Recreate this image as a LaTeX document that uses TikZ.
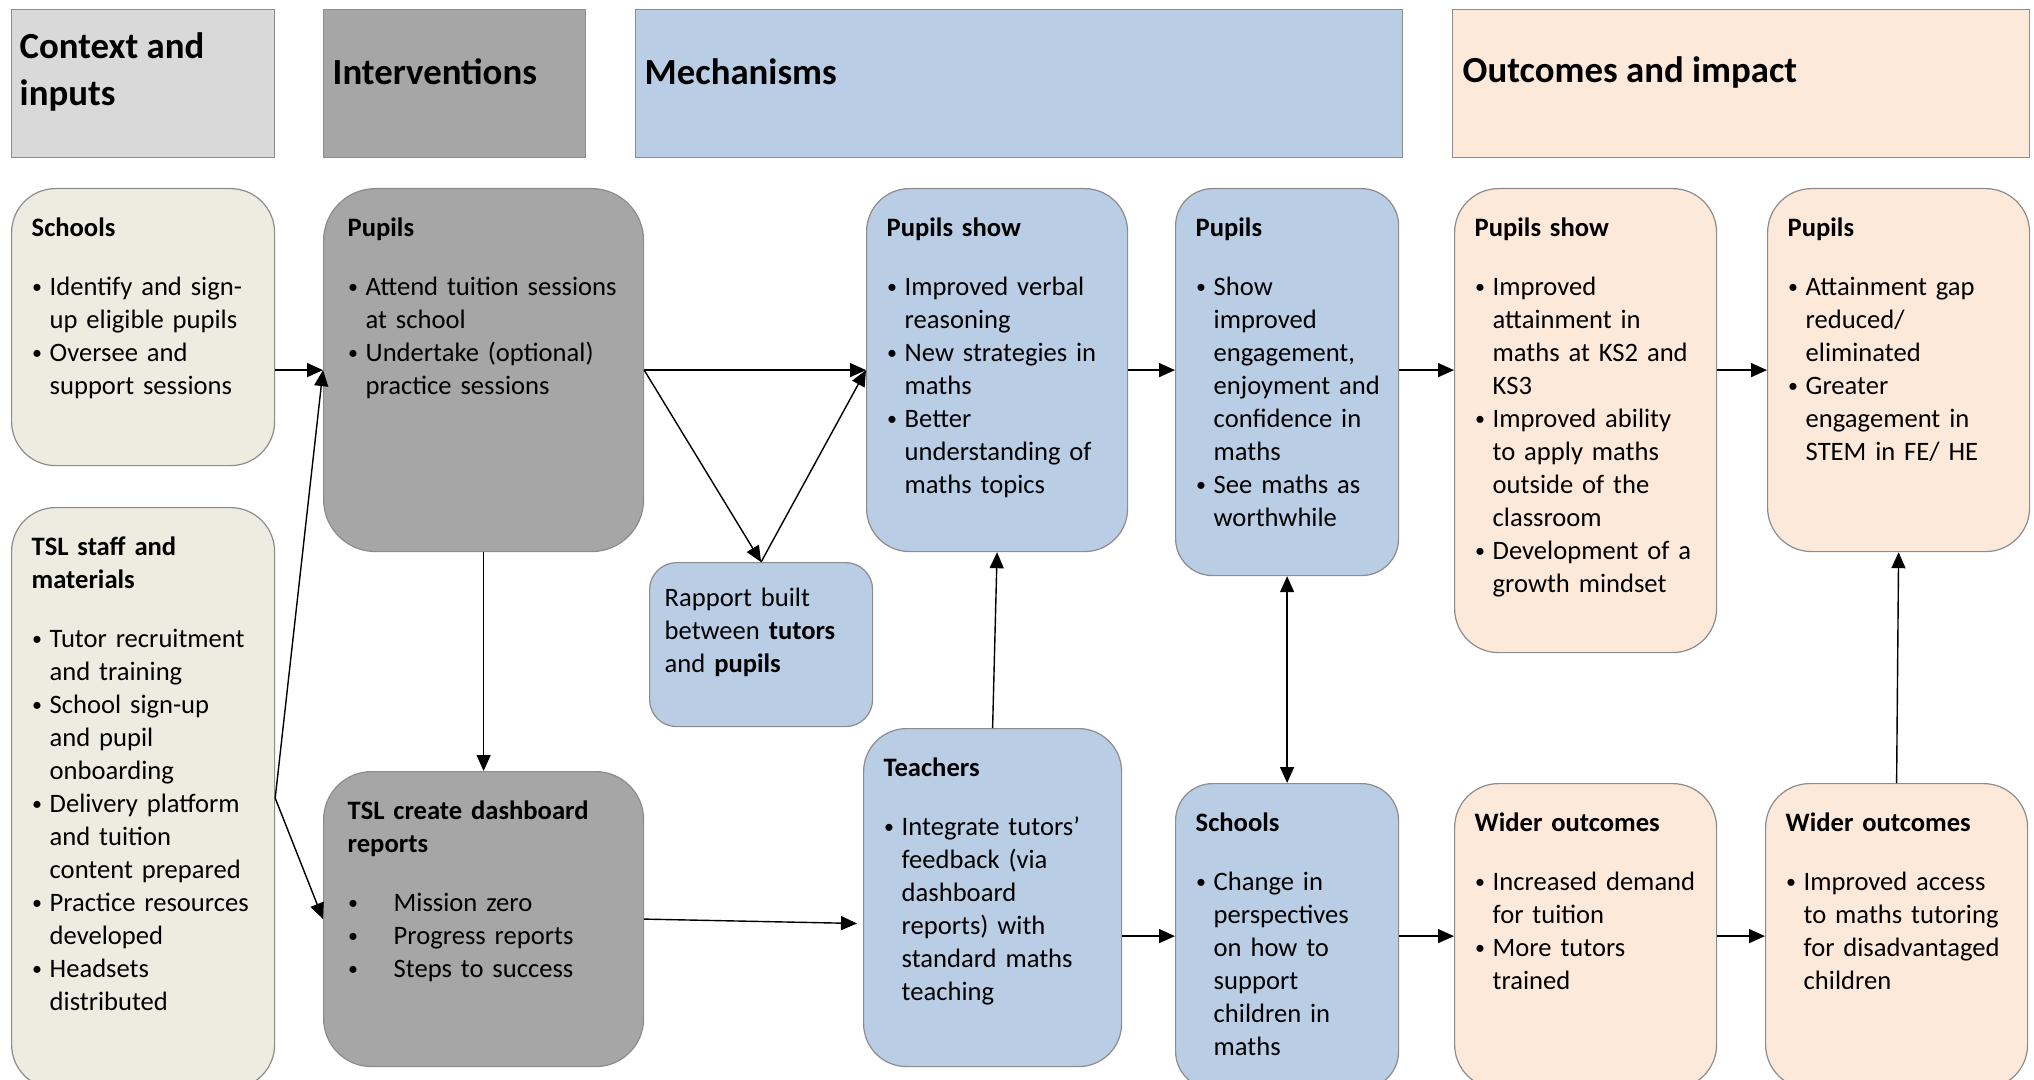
\documentclass[tikz,border=0pt]{standalone}
\usepackage{fontspec}
\setmainfont{Carlito}
\usetikzlibrary{arrows.meta}
\definecolor{hdgrey}{HTML}{D9D9D9}
\definecolor{intgrey}{HTML}{A6A6A6}
\definecolor{mechblue}{HTML}{B9CDE5}
\definecolor{outpeach}{HTML}{FDE9D9}
\definecolor{ctxbeige}{HTML}{EEECE1}
\definecolor{edgegrey}{HTML}{8C8C8C}
\newcommand\bulletmark{\raisebox{1.1pt}{\scalebox{0.75}{\textbullet}}}
\newcommand\itm{\par\hangindent=9pt\hangafter=1\noindent\hbox to 9pt{\hspace{0.2pt}\bulletmark\hfil}}
\newcommand\itmw{\par\noindent\hbox to 23pt{\hspace{0.2pt}\bulletmark\hfil}}
\newcommand\gap{\par\vspace{13.2pt}}
\begin{document}
\begin{tikzpicture}[x=0.5pt,y=-0.5pt,line width=0.7pt,
  >={Triangle[length=8pt,width=7pt]},
  hd/.style={draw=edgegrey,line width=0.6pt,anchor=north west,inner sep=0pt,minimum height=74pt},
  hdtxt/.style={anchor=west,inner sep=0pt,align=left,font={\fontsize{18.4}{23.5}\selectfont\bfseries}},
  cell/.style={draw=edgegrey,line width=0.6pt,anchor=north west,inner sep=0pt},
  txt/.style={anchor=north west,inner sep=0pt,text width=150pt,align=left,font={\fontsize{13.3}{16.5}\selectfont}}]
\clip (0,0) rectangle (2034,1080);
% column headers
\node[hd,fill=hdgrey,minimum width=131.5pt] (hctx) at (11,9) {};
\node[hd,fill=intgrey,minimum width=131pt] (hint) at (323,9) {};
\node[hd,fill=mechblue,minimum width=383.5pt] (hmech) at (635,9) {};
\node[hd,fill=outpeach,minimum width=288.5pt] (hout) at (1452,9) {};
\node[hdtxt] (hctxt) at ([xshift=4pt,yshift=5.75pt]hctx.west) {Context and\\inputs};
\node[hdtxt] (hintt) at ([xshift=4.5pt,yshift=5.75pt]hint.west) {Interventions};
\node[hdtxt] (hmecht) at ([xshift=4.5pt,yshift=5.75pt]hmech.west) {Mechanisms};
\node[hdtxt] (houtt) at ([xshift=5pt,yshift=5.75pt]hout.west) {Outcomes and impact};
% context and inputs
\node[cell,fill=ctxbeige,minimum width=131.5pt,minimum height=138.5pt,rounded corners=22pt] (ctx1) at (11,188) {};
\node[cell,fill=ctxbeige,minimum width=131.5pt,minimum height=290.5pt,rounded corners=22pt] (ctx2) at (11,507) {};
\node[txt] (ctx1t) at ([xshift=10pt,yshift=-14.5pt]ctx1.north west)
  {\textbf{Schools}\gap
   \itm Identify and sign-\newline up eligible pupils
   \itm Oversee and\newline support sessions\par};
\node[txt] (ctx2t) at ([xshift=10pt,yshift=-14.5pt]ctx2.north west)
  {\textbf{TSL staff and\newline materials}\gap
   \itm Tutor recruitment\newline and training
   \itm School sign-up\newline and pupil\newline onboarding
   \itm Delivery platform\newline and tuition\newline content prepared
   \itm Practice resources\newline developed
   \itm Headsets\newline distributed\par};
% interventions
\node[cell,fill=intgrey,minimum width=160pt,minimum height=181.5pt,rounded corners=26pt] (int1) at (323,188) {};
\node[cell,fill=intgrey,minimum width=160pt,minimum height=147.5pt,rounded corners=24pt] (int2) at (323,771) {};
\node[txt] (int1t) at ([xshift=12pt,yshift=-14.5pt]int1.north west)
  {\textbf{Pupils}\gap
   \itm Attend tuition sessions\newline at school
   \itm Undertake (optional)\newline practice sessions\par};
\node[txt] (int2t) at ([xshift=12pt,yshift=-14.5pt]int2.north west)
  {\textbf{TSL create dashboard\newline reports}\gap
   \itmw Mission zero
   \itmw Progress reports
   \itmw Steps to success\par};
% mechanisms
\node[cell,fill=mechblue,minimum width=111.5pt,minimum height=82pt,rounded corners=13.5pt] (rap) at (649,562) {};
\node[cell,fill=mechblue,minimum width=130.5pt,minimum height=181.5pt,rounded corners=21.5pt] (mech1) at (866,188) {};
\node[cell,fill=mechblue,minimum width=129pt,minimum height=169pt,rounded corners=21.5pt] (mech2) at (863,728) {};
\node[cell,fill=mechblue,minimum width=111.5pt,minimum height=193.5pt,rounded corners=18.5pt] (mech3) at (1175,188) {};
\node[cell,fill=mechblue,minimum width=111.5pt,minimum height=152.5pt,rounded corners=18.5pt] (mech4) at (1175,783) {};
\node[txt] (rapt) at ([xshift=7.5pt,yshift=-12.5pt]rap.north west)
  {Rapport built\newline between \textbf{tutors}\newline and \textbf{pupils}\par};
\node[txt] (mech1t) at ([xshift=10pt,yshift=-14.5pt]mech1.north west)
  {\textbf{Pupils show}\gap
   \itm Improved verbal\newline reasoning
   \itm New strategies in\newline maths
   \itm Better\newline understanding of\newline maths topics\par};
\node[txt] (mech2t) at ([xshift=10pt,yshift=-14.5pt]mech2.north west)
  {\textbf{Teachers}\gap
   \itm Integrate tutors’\newline feedback (via\newline dashboard\newline reports) with\newline standard maths\newline teaching\par};
\node[txt] (mech3t) at ([xshift=10pt,yshift=-14.5pt]mech3.north west)
  {\textbf{Pupils}\gap
   \itm Show\newline improved\newline engagement,\newline enjoyment and\newline confidence in\newline maths
   \itm See maths as\newline worthwhile\par};
\node[txt] (mech4t) at ([xshift=10pt,yshift=-14.5pt]mech4.north west)
  {\textbf{Schools}\gap
   \itm Change in\newline perspectives\newline on how to\newline support\newline children in\newline maths\par};
% outcomes and impact
\node[cell,fill=outpeach,minimum width=131pt,minimum height=232pt,rounded corners=22pt] (out1) at (1454,188) {};
\node[cell,fill=outpeach,minimum width=131pt,minimum height=181.5pt,rounded corners=22pt] (out2) at (1767,188) {};
\node[cell,fill=outpeach,minimum width=131pt,minimum height=152.5pt,rounded corners=22pt] (out3) at (1454,783) {};
\node[cell,fill=outpeach,minimum width=131pt,minimum height=152.5pt,rounded corners=22pt] (out4) at (1765,783) {};
\node[txt] (out1t) at ([xshift=10pt,yshift=-14.5pt]out1.north west)
  {\textbf{Pupils show}\gap
   \itm Improved\newline attainment in\newline maths at KS2 and\newline KS3
   \itm Improved ability\newline to apply maths\newline outside of the\newline classroom
   \itm Development of a\newline growth mindset\par};
\node[txt] (out2t) at ([xshift=10pt,yshift=-14.5pt]out2.north west)
  {\textbf{Pupils}\gap
   \itm Attainment gap\newline reduced/\newline eliminated
   \itm Greater\newline engagement in\newline STEM in FE/ HE\par};
\node[txt] (out3t) at ([xshift=10pt,yshift=-14.5pt]out3.north west)
  {\textbf{Wider outcomes}\gap
   \itm Increased demand\newline for tuition
   \itm More tutors\newline trained\par};
\node[txt] (out4t) at ([xshift=10pt,yshift=-14.5pt]out4.north west)
  {\textbf{Wider outcomes}\gap
   \itm Improved access\newline to maths tutoring\newline for disadvantaged\newline children\par};
% arrows
\draw[->] (ctx1.east |- int1.west) -- (int1.west);
\draw[->] (ctx2.east) -- (int1.west);
\draw[->] (ctx2.east) -- (int2.west);
\draw[->] (int1.south) -- (int2.north);
\draw[->] (int1.east) -- (mech1.west);
\draw[->] (int1.east) -- (rap.north);
\draw[->] (rap.north) -- (mech1.west);
\draw[->,shorten >=3pt] (int2.east) -- ([yshift=-13pt]mech2.west);
\draw[->] (mech2.north) -- (mech1.south);
\draw[->] (mech1.east) -- (mech1.east -| mech3.west);
\draw[<->] (mech3.south) -- (mech4.north);
\draw[->] (mech3.east |- mech1.east) -- (out1.west |- mech1.east);
\draw[->] (out1.east |- out2.west) -- (out2.west);
\draw[->] (mech2.east |- mech4.west) -- (mech4.west);
\draw[->] (mech4.east) -- (out3.west);
\draw[->] (out3.east) -- (out4.west);
\draw[->] (out4.north) -- (out2.south);
\end{tikzpicture}
\end{document}
